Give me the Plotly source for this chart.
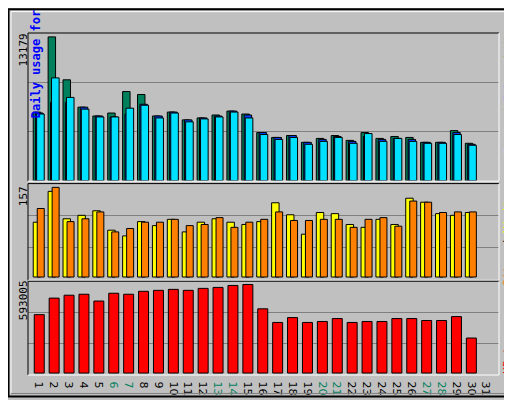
import plotly.graph_objects as go

days = list(range(1, 32))
day_labels = [str(d) for d in days]
weekend_days = [6, 7, 13, 14, 20, 21, 27, 28]

hits = [6292, 13179, 9244, 6739, 5934, 6203, 8171, 7902, 5934, 6292, 5576, 5755, 6024, 6381, 6113,
        4413, 3966, 4145, 3519, 3877, 4145, 3698, 4413, 3877, 4056, 3966, 3519, 3519, 4592, 3429]
files = [6203, 7187, 7187, 6739, 5934, 5845, 6113, 7008, 5934, 6292, 5576, 5755, 5934, 6381, 6024,
         4413, 3966, 4145, 3519, 3787, 4056, 3608, 4056, 3787, 3877, 3787, 3519, 3519, 4413, 3340]
pages = [6113, 9423, 7634, 6560, 5845, 5845, 6650, 6918, 5755, 6203, 5397, 5666, 5845, 6292, 5755,
         4234, 3787, 3966, 3340, 3608, 3966, 3429, 4324, 3608, 3877, 3608, 3429, 3429, 4234, 3250]
sites = [96, 150, 102, 108, 116, 82, 72, 97, 90, 101, 79, 96, 102, 96, 92,
         97, 130, 109, 75, 113, 111, 92, 87, 101, 92, 138, 131, 111, 108, 113]
visits = [120, 157, 97, 102, 114, 79, 85, 96, 96, 101, 90, 92, 104, 87, 96,
          101, 114, 99, 99, 101, 101, 87, 101, 104, 89, 133, 131, 113, 114, 114]
kbytes = [391000, 501800, 521300, 527800, 482200, 534400, 527800, 547400, 553900, 560400,
          553900, 567000, 573500, 586500, 593005, 430100, 338900, 371400, 338900, 345400,
          364900, 338900, 345400, 345400, 364900, 364900, 351900, 351900, 378000, 234600]

W, H = 512, 400
L, R, T, B = 20, 491, 25, 377


def px(x):
    return (x - L) / (R - L)


def py(y):
    return (B - y) / (B - T)


GRAY = "#C0C0C0"
MONO = "DejaVu Sans Mono"
line = dict(color="black", width=1)
days_d = days[:30]

fig = go.Figure()
fig.add_trace(go.Bar(x=days_d, y=hits, marker=dict(color="#00805C", line=line), offset=-0.52, width=0.5, yaxis="y"))
fig.add_trace(go.Bar(x=days_d, y=files, marker=dict(color="#0040FF", line=line), offset=-0.36, width=0.5, yaxis="y"))
fig.add_trace(go.Bar(x=days_d, y=pages, marker=dict(color="#00E0FF", line=line), offset=-0.29, width=0.51, yaxis="y"))
fig.add_trace(go.Bar(x=days_d, y=sites, marker=dict(color="#FFFF00", line=line), offset=-0.52, width=0.5, yaxis="y2"))
fig.add_trace(go.Bar(x=days_d, y=visits, marker=dict(color="#FF8000", line=line), offset=-0.25, width=0.47, yaxis="y2"))
fig.add_trace(go.Bar(x=days_d, y=kbytes, marker=dict(color="#FF0000", line=line), offset=-0.45, width=0.67, yaxis="y3"))

r1 = [0, max(hits) * 152 / 148]
r2 = [-5.1, 163.8]
r3 = [-max(kbytes) * 2 / 91, max(kbytes) * 95 / 91]


def thirds(r):
    return [r[0] + (r[1] - r[0]) / 3, r[0] + 2 * (r[1] - r[0]) / 3]


yax = dict(showticklabels=False, ticks="", gridcolor="#808080", gridwidth=1, zeroline=False,
           fixedrange=True)
ticktext = [f"<span style='color:#00805C'>{t}</span>" if d in weekend_days else t
            for d, t in zip(days, day_labels)]

fig.update_layout(
    width=W, height=H, showlegend=False, barmode="overlay",
    paper_bgcolor=GRAY, plot_bgcolor=GRAY,
    margin=dict(l=L, r=W - R, t=T, b=H - B),
    font=dict(family=MONO, size=11, color="black"),
    xaxis=dict(range=[0.13, 31.74], tickvals=days, ticktext=ticktext, showgrid=False, anchor="y3",
               ticks="", tickfont=dict(family="DejaVu Sans", size=11), zeroline=False),
    yaxis=dict(domain=[0.568, 1], range=r1, tickvals=thirds(r1), **yax),
    yaxis2=dict(domain=[0.278, 0.560], range=r2, tickvals=thirds(r2), **yax),
    yaxis3=dict(domain=[0, 0.276], range=r3, tickvals=thirds(r3), **yax),
)

shapes = []
# outer frame
shapes.append(dict(type="rect", xref="paper", yref="paper", x0=px(0.5), x1=px(511), y0=py(0.5), y1=py(399),
                   line=dict(color="black", width=2)))
shapes.append(dict(type="line", xref="paper", yref="paper", x0=px(3), x1=px(508), y0=py(3), y1=py(3), line=dict(color="white", width=1)))
shapes.append(dict(type="line", xref="paper", yref="paper", x0=px(3), x1=px(3), y0=py(3), y1=py(396), line=dict(color="white", width=1)))
shapes.append(dict(type="line", xref="paper", yref="paper", x0=px(508), x1=px(508), y0=py(3), y1=py(396), line=dict(color="#808080", width=1)))
shapes.append(dict(type="line", xref="paper", yref="paper", x0=px(3), x1=px(508), y0=py(396), y1=py(396), line=dict(color="#808080", width=1)))
# panel bevels
for top, bot in [(25, 177.5), (180, 279.5), (280.5, 377)]:
    shapes.append(dict(type="line", xref="paper", yref="paper", x0=0, x1=1, y0=py(top), y1=py(top), line=dict(color="black", width=1)))
    shapes.append(dict(type="line", xref="paper", yref="paper", x0=0, x1=0, y0=py(top), y1=py(bot), line=dict(color="black", width=1)))
    shapes.append(dict(type="line", xref="paper", yref="paper", x0=0, x1=1, y0=py(bot), y1=py(bot), line=dict(color="white", width=1)))
    shapes.append(dict(type="line", xref="paper", yref="paper", x0=1, x1=1, y0=py(top), y1=py(bot), line=dict(color="white", width=1)))
fig.update_layout(shapes=shapes)

ann = [
    dict(text="<b>Daily usage for April 2024</b>", x=px(19), y=py(16), xanchor="left", yanchor="middle",
         font=dict(family=MONO, size=12, color="#0000FF")),
    dict(text="13179", x=px(15), y=py(43)),
    dict(text="157", x=px(15), y=py(193)),
    dict(text="593005", x=px(15), y=py(300)),
    dict(text="<span style='color:#00E0FF'>Pages</span> / <span style='color:#0040FF'>Files</span>"
              " / <span style='color:#00805C'>Hits</span>", x=px(500), y=py(82)),
    dict(text="<span style='color:#FF8000'>Sites</span> / <span style='color:#FFFF00'>Visits</span>",
         x=px(500), y=py(238)),
    dict(text="<span style='color:#FF0000'>KBytes</span>", x=px(500), y=py(355)),
]
for a in ann:
    a.setdefault("xref", "paper")
    a.setdefault("yref", "paper")
    a.setdefault("showarrow", False)
    a.setdefault("textangle", -90)
    a.setdefault("xanchor", "center")
    a.setdefault("yanchor", "middle")
fig.update_layout(annotations=ann)

fig.write_html("out.html")
